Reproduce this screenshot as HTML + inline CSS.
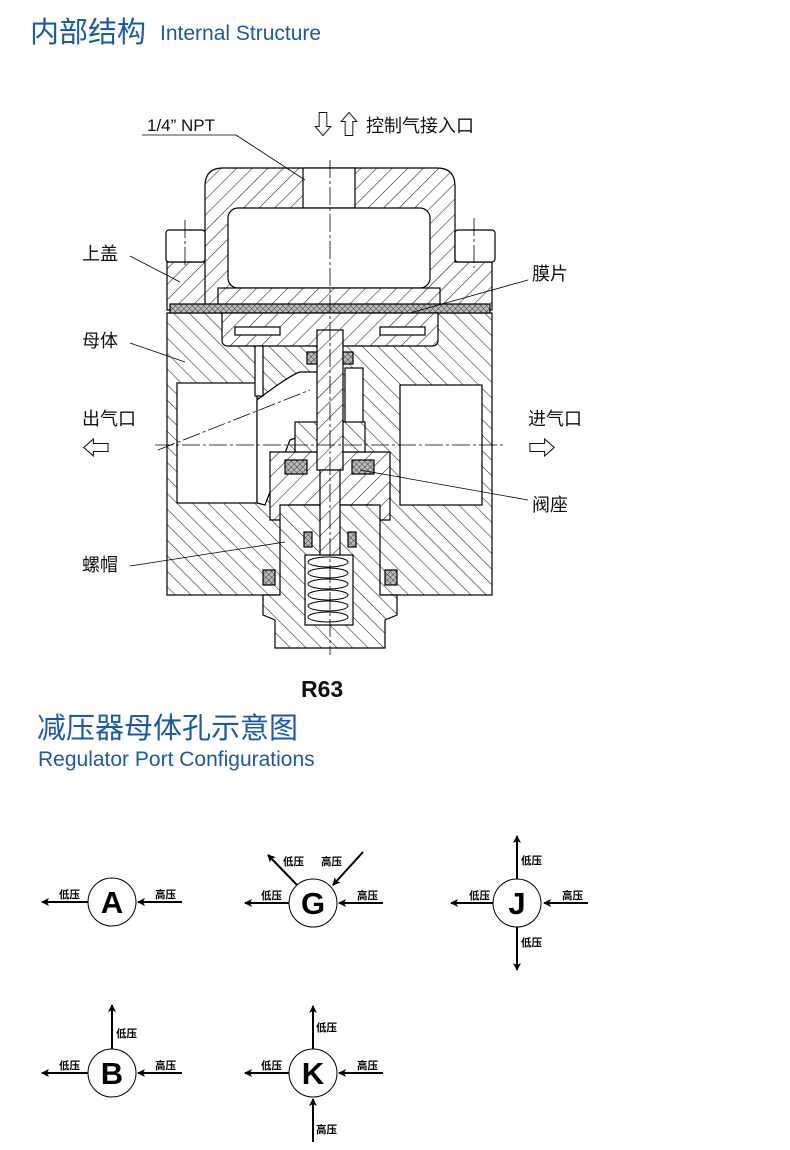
<!DOCTYPE html>
<html><head><meta charset="utf-8"><style>
html,body{margin:0;padding:0;background:#fff}
body{width:790px;height:1150px;position:relative;overflow:hidden;font-family:"Liberation Sans","Noto Sans CJK SC",sans-serif}
</style></head><body>
<svg width="790" height="1150" viewBox="0 0 790 1150" xmlns="http://www.w3.org/2000/svg" style="position:absolute;left:0;top:0">
<defs>
<pattern id="h" width="11" height="11" patternUnits="userSpaceOnUse" patternTransform="rotate(45)">
<rect width="11" height="11" fill="#fff"/><line x1="0" y1="0" x2="0" y2="11" stroke="#222" stroke-width="1.1"/></pattern>
<pattern id="h2" width="11" height="11" patternUnits="userSpaceOnUse" patternTransform="rotate(-45)">
<rect width="11" height="11" fill="#fff"/><line x1="0" y1="0" x2="0" y2="11" stroke="#222" stroke-width="1.1"/></pattern>
<pattern id="x" width="4" height="4" patternUnits="userSpaceOnUse" patternTransform="rotate(45)">
<rect width="4" height="4" fill="#bbb"/><line x1="0" y1="0" x2="0" y2="4" stroke="#222" stroke-width="0.8"/><line x1="0" y1="0" x2="4" y2="0" stroke="#222" stroke-width="0.8"/></pattern>
<marker id="ar" markerWidth="8" markerHeight="8" refX="7" refY="4" orient="auto" markerUnits="userSpaceOnUse"><path d="M0,0 L8,4 L0,8 L2,4 Z" fill="#000"/></marker>
</defs>
<g font-family="Liberation Sans, Noto Sans CJK SC, sans-serif" fill="#1a5aa8">
<text x="30" y="42" font-size="29" font-family="Noto Sans CJK SC, sans-serif">内部结构</text>
<text x="160" y="40" font-size="21">Internal Structure</text>
<text x="37" y="738" font-size="29" font-family="Noto Sans CJK SC, sans-serif">减压器母体孔示意图</text>
<text x="38" y="766" font-size="21">Regulator Port Configurations</text>
</g>
<g stroke="#000" stroke-width="1.2">
<rect x="167" y="313" width="325" height="282" fill="url(#h2)"/>
<path d="M205,310 V186 Q205,168 223,168 H437 Q455,168 455,186 V262 H492 V310 H167 V262 H205 Z" fill="url(#h)"/>
<rect x="166" y="230" width="39" height="32" rx="3" fill="#fff"/>
<rect x="455" y="230" width="40" height="32" rx="3" fill="#fff"/>
<rect x="303" y="168" width="52" height="40" fill="#fff"/>
<rect x="228" y="208" width="202" height="80" rx="10" fill="#fff"/>
<rect x="218" y="288" width="222" height="17" fill="url(#h)"/>
<rect x="170" y="304" width="320" height="9" fill="url(#x)"/>
<path d="M222,313 H438 V340 Q438,346 432,346 H228 Q222,346 222,340 Z" fill="url(#h)"/>
<rect x="235" y="327" width="45" height="8" fill="#fff"/>
<rect x="380" y="327" width="45" height="8" fill="#fff"/>
<rect x="177" y="383" width="80" height="120" fill="#fff"/>
<rect x="400" y="385" width="82" height="120" fill="#fff"/>
<path d="M257,400 Q290,375 300,372 L318,372 L318,430 L290,440 L265,505 L257,503 Z" fill="#fff"/>
<rect x="345" y="368" width="18" height="55" fill="#fff"/>
<rect x="255" y="346" width="8" height="50" fill="#fff"/>
<path d="M270,452 H390 V520 H372 V505 H290 V520 H270 Z" fill="url(#h)"/>
<rect x="295" y="422" width="70" height="30" fill="url(#h2)"/>
<rect x="285" y="460" width="22" height="14" fill="url(#x)"/>
<rect x="352" y="460" width="22" height="14" fill="url(#x)"/>
<path d="M280,505 H380 V595 H397 V615 L385,620 V648 H275 V620 L263,615 V595 H280 Z" fill="url(#h2)"/>
<rect x="305" y="555" width="48" height="70" fill="#fff"/>
<g fill="#fff" stroke-width="1">
<ellipse cx="328" cy="562" rx="20" ry="5"/><ellipse cx="328" cy="573" rx="20" ry="5"/><ellipse cx="328" cy="584" rx="20" ry="5"/>
<ellipse cx="328" cy="595" rx="20" ry="5"/><ellipse cx="328" cy="606" rx="20" ry="5"/><ellipse cx="328" cy="617" rx="20" ry="5"/>
</g>
<rect x="317" y="330" width="26" height="140" fill="url(#h)"/>
<rect x="320" y="470" width="20" height="85" fill="url(#h)"/>
<rect x="307" y="352" width="10" height="12" fill="url(#x)"/>
<rect x="343" y="352" width="10" height="12" fill="url(#x)"/>
<rect x="263" y="570" width="12" height="15" fill="url(#x)"/>
<rect x="385" y="570" width="12" height="15" fill="url(#x)"/>
<rect x="304" y="532" width="8" height="15" fill="url(#x)"/>
<rect x="348" y="532" width="8" height="15" fill="url(#x)"/>
</g>
<g stroke="#000" stroke-width="0.8" stroke-dasharray="18,3,3,3" fill="none">
<line x1="330" y1="160" x2="330" y2="655"/>
<line x1="155" y1="445" x2="505" y2="445"/>
<line x1="185" y1="220" x2="185" y2="268"/>
<line x1="474" y1="218" x2="474" y2="268"/>
<line x1="158" y1="450" x2="310" y2="390"/>
</g>
<g stroke="#000" stroke-width="0.8" fill="none">
<line x1="142" y1="135" x2="236" y2="135"/><line x1="236" y1="135" x2="305" y2="180"/>
<line x1="130" y1="256" x2="180" y2="282"/>
<line x1="130" y1="343" x2="185" y2="362"/>
<line x1="528" y1="280" x2="410" y2="313"/>
<line x1="528" y1="500" x2="360" y2="470"/>
<line x1="130" y1="566" x2="285" y2="542"/>
</g>
<g font-family="Liberation Sans, Noto Sans CJK SC, sans-serif" fill="#111">
<text x="147" y="131" font-size="17">1/4” NPT</text>
<text x="310" y="134" font-size="26">⇩⇧</text>
<text x="366" y="132" font-size="18">控制气接入口</text>
<text x="82" y="260" font-size="18">上盖</text>
<text x="82" y="347" font-size="18">母体</text>
<text x="82" y="425" font-size="18">出气口</text>
<text x="82" y="458" font-size="28">⇦</text>
<text x="528" y="425" font-size="18">进气口</text>
<text x="528" y="458" font-size="28">⇨</text>
<text x="532" y="280" font-size="18">膜片</text>
<text x="532" y="511" font-size="18">阀座</text>
<text x="82" y="571" font-size="18">螺帽</text>
<text x="301" y="697" font-size="23" font-weight="bold">R63</text>
</g>
<g stroke="#000" stroke-width="2" marker-end="url(#ar)">
<line x1="88" y1="902" x2="42" y2="902"/><line x1="182" y1="902" x2="138" y2="902"/>
<line x1="289" y1="903" x2="245" y2="903"/><line x1="383" y1="903" x2="339" y2="903"/>
<line x1="297" y1="885" x2="268" y2="855"/><line x1="363" y1="852" x2="333" y2="885"/>
<line x1="493" y1="903" x2="451" y2="903"/><line x1="588" y1="903" x2="544" y2="903"/>
<line x1="517" y1="879" x2="517" y2="836"/><line x1="517" y1="927" x2="517" y2="970"/>
<line x1="88" y1="1073" x2="42" y2="1073"/><line x1="182" y1="1073" x2="138" y2="1073"/>
<line x1="112" y1="1049" x2="112" y2="1005"/>
<line x1="289" y1="1073" x2="245" y2="1073"/><line x1="383" y1="1073" x2="339" y2="1073"/>
<line x1="313" y1="1049" x2="313" y2="1006"/><line x1="313" y1="1142" x2="313" y2="1099"/>
</g>
<g fill="#fff" stroke="#000" stroke-width="1">
<circle cx="112" cy="902" r="24"/><circle cx="313" cy="903" r="24"/><circle cx="517" cy="903" r="24"/>
<circle cx="112" cy="1073" r="24"/><circle cx="313" cy="1073" r="24"/>
</g>
<g font-family="Liberation Sans, sans-serif" font-weight="bold" font-size="31" text-anchor="middle" fill="#000">
<text x="112" y="913">A</text><text x="313" y="914">G</text><text x="517" y="914">J</text>
<text x="112" y="1084">B</text><text x="313" y="1084">K</text>
</g>
<g font-family="Noto Sans CJK SC, sans-serif" font-size="10.5" font-weight="bold" fill="#000">
<text x="59" y="898">低压</text><text x="155" y="898">高压</text>
<text x="261" y="899">低压</text><text x="357" y="899">高压</text>
<text x="283" y="865">低压</text><text x="321" y="865">高压</text>
<text x="469" y="899">低压</text><text x="562" y="899">高压</text>
<text x="521" y="864">低压</text><text x="521" y="946">低压</text>
<text x="59" y="1069">低压</text><text x="155" y="1069">高压</text>
<text x="116" y="1037">低压</text>
<text x="261" y="1069">低压</text><text x="357" y="1069">高压</text>
<text x="316" y="1031">低压</text><text x="316" y="1133">高压</text>
</g>
</svg>
</body></html>
